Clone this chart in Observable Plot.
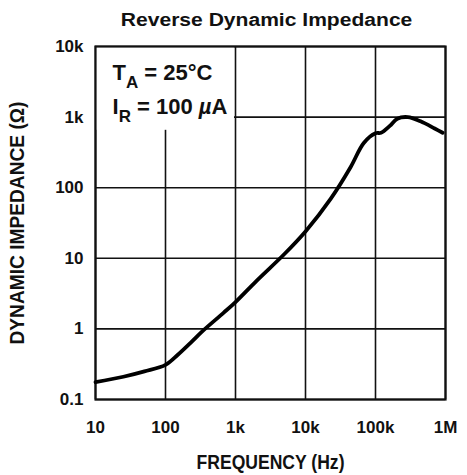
<!DOCTYPE html>
<html>
<head>
<meta charset="utf-8">
<script src="https://cdn.jsdelivr.net/npm/d3@7"></script>
<script src="https://cdn.jsdelivr.net/npm/@observablehq/plot@0.6"></script>
<style>
  html, body { margin: 0; padding: 0; background: #fff; }
  #wrap { width: 467px; }
  #title { height: 35px; padding-left: 67px; box-sizing: border-box; text-align: center; }
  #title span { display: inline-block; font-family: "Liberation Sans", Arial, sans-serif; font-weight: bold; font-size: 18px; line-height: 18px; margin-top: 11px; transform: scaleX(1.17); color: #111; }
  svg text { fill: #111; }
</style>
</head>
<body>
<div id="wrap">
  <div id="title"><span>Reverse Dynamic Impedance</span></div>
  <div id="chart"></div>
</div>
<script>
const frequency = [10, 25, 50, 100, 150, 230, 350, 680, 1000, 2000, 5000, 10000, 23000, 44000, 68000, 100000, 120000, 160000, 205000, 290000, 440000, 700000, 910000];
const impedance = [0.176, 0.21, 0.25, 0.31, 0.43, 0.64, 0.96, 1.70, 2.4, 4.8, 11.5, 24, 70, 195, 430, 590, 600, 750, 950, 1000, 870, 690, 600];
const xTicks = [10, 100, 1e3, 1e4, 1e5, 1e6];
const xTickLabels = ["10", "100", "1k", "10k", "100k", "1M"];
const yTicks = [0.1, 1, 10, 100, 1e3, 1e4];
const yTickLabels = ["0.1", "1", "10", "100", "1k", "10k"];
const annotations = [
  {main: "T", sub: "A", rest: " = 25°C"},
  {main: "I", sub: "R", rest: " = 100 µA"}
];
// white box behind the conditions text (frequency range, impedance range)
const conditionsBox = [{fromHz: 10, toHz: 1000, fromOhm: 650, toOhm: 10000}];

const data = frequency.map((f, i) => ({f, z: impedance[i]}));
const font = "'Liberation Sans', Arial, Helvetica, sans-serif";

const chart = Plot.plot({
  width: 467,
  height: 440,
  marginTop: 11,
  marginBottom: 76,
  marginLeft: 95,
  marginRight: 22,
  style: {fontFamily: font, fontSize: "17px", fontWeight: "bold", color: "#111"},
  x: {type: "log", domain: [10, 1e6], ticks: xTicks, tickFormat: (d) => xTickLabels[xTicks.indexOf(d)], tickSize: 0, tickPadding: 21, label: "FREQUENCY (Hz)", labelAnchor: "center", labelOffset: 69, labelArrow: "none"},
  y: {type: "log", domain: [0.1, 1e4], ticks: yTicks, tickFormat: (d) => yTickLabels[yTicks.indexOf(d)], tickSize: 0, tickPadding: 12, label: "DYNAMIC IMPEDANCE (Ω)", labelAnchor: "center", labelOffset: 86, labelArrow: "none"},
  marks: [
    Plot.gridY(yTicks, {stroke: "#111", strokeOpacity: 1, strokeWidth: 1.6}),
    Plot.gridX(xTicks, {stroke: "#111", strokeOpacity: 1, strokeWidth: 1.6}),
    Plot.rect(conditionsBox, {x1: "fromHz", x2: "toHz", y1: "fromOhm", y2: "toOhm", fill: "#fff", insetRight: 1}),
    Plot.frame({stroke: "#111", strokeWidth: 2.2}),
    Plot.line(data, {x: "f", y: "z", stroke: "#000", strokeWidth: 3.8, curve: "catmull-rom", strokeLinejoin: "round", strokeLinecap: "round"}),
    ...annotations.map((a, i) => Plot.text([a], {text: (d) => d.main + d.sub + d.rest, frameAnchor: "top-left", lineAnchor: "bottom", textAnchor: "start", dx: 17, dy: 33 + i * 34, fontSize: 22, fill: "#111"}))
  ]
});

// axis label sizes (condensed lettering)
d3.select(chart).select("g[aria-label='x-axis label'] text").attr("font-size", 20).attr("textLength", 148).attr("lengthAdjust", "spacingAndGlyphs");
d3.select(chart).select("g[aria-label='y-axis label'] text").attr("font-size", 20).attr("textLength", 243).attr("lengthAdjust", "spacingAndGlyphs");

// subscripts and italic µ in the conditions text
d3.select(chart).selectAll("text").filter(function() {
  return annotations.some(a => this.textContent === a.main + a.sub + a.rest);
}).each(function() {
  const content = this.textContent;
  const a = annotations.find(a => content === a.main + a.sub + a.rest);
  const t = d3.select(this);
  t.text(null);
  t.append("tspan").text(a.main);
  t.append("tspan").attr("dy", 8).attr("font-size", 17).text(a.sub);
  const parts = a.rest.split("µ");
  t.append("tspan").attr("dy", -8).text(parts[0]);
  if (parts.length > 1) {
    t.append("tspan").attr("font-style", "italic").text("µ");
    t.append("tspan").text(parts[1]);
  }
});

document.getElementById("chart").appendChild(chart);
</script>
</body>
</html>
